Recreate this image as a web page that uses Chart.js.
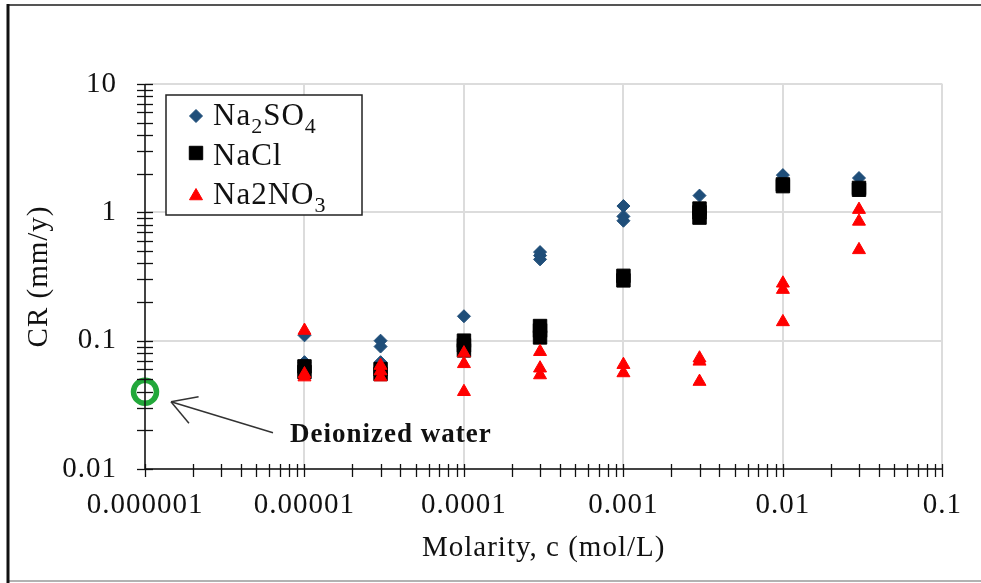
<!DOCTYPE html>
<html><head><meta charset="utf-8">
<script src="https://cdn.jsdelivr.net/npm/chart.js@4.4.1/dist/chart.umd.min.js"></script>
<style>html,body{margin:0;padding:0;background:#fff;}#wrap{position:relative;width:981px;height:583px;}</style>
</head><body><div id="wrap"><canvas id="c" width="981" height="583"></canvas></div>
<script>
// ---- data ----
const molarity = [1e-5, 3e-5, 1e-4, 3e-4, 1e-3, 3e-3, 1e-2, 3e-2];
const na2so4CR = [[0.11, 0.068], [0.10, 0.09, 0.068], [0.155], [0.49, 0.46, 0.43], [1.12, 0.93, 0.86], [1.35], [1.95], [1.85]];
const naclCR   = [[0.063, 0.057], [0.06, 0.055], [0.1, 0.092, 0.084], [0.13, 0.12, 0.106], [0.32, 0.295], [1.07, 1.0, 0.91], [1.65, 1.6], [1.55, 1.5]];
const na2no3CR = [[0.12, 0.055, 0.052], [0.064, 0.058, 0.052], [0.08, 0.066, 0.04], [0.082, 0.061, 0.054], [0.065, 0.056], [0.073, 0.069, 0.048], [0.28, 0.25, 0.14], [1.05, 0.85, 0.51]];
const diWaterX = [1e-6];
const diWaterCR = [0.04];
const xDecades = [1e-6, 1e-5, 1e-4, 1e-3, 1e-2, 1e-1];
const xTickLabels = ['0.000001', '0.00001', '0.0001', '0.001', '0.01', '0.1'];
const yDecades = [0.01, 0.1, 1, 10];
const yTickLabels = ['0.01', '0.1', '1', '10'];
const seriesNames = [['Na', '2', 'SO', '4'], ['NaCl'], ['Na2NO', '3']];
const annotationText = 'Deionized water';
const xTitle = 'Molarity, c (mol/L)';
const yTitle = 'CR (mm/y)';

const FONT = '"Liberation Serif", "Times New Roman", serif';
const SPACING = '1px';
function pts(groups) {
  const out = [];
  groups.forEach((g, i) => g.forEach(v => out.push({x: molarity[i], y: v})));
  return out;
}
function isDecade(v, list) { return list.findIndex(d => Math.abs(d - v) / d < 1e-9); }
function logTicks(min, max) {
  const out = [];
  for (let e = Math.round(Math.log10(min)); e < Math.round(Math.log10(max)); e++) {
    for (let m = 1; m <= 9; m++) out.push(+(m * Math.pow(10, e)).toPrecision(6));
  }
  out.push(max);
  return out;
}

const datasets = [
  {label: 'Na2NO3', data: pts(na2no3CR), pointStyle: 'triangle', pointRadius: 7.5, backgroundColor: '#FF0000', borderColor: '#FF0000', borderWidth: 1, order: 0, clip: false},
  {label: 'NaCl', data: pts(naclCR), pointStyle: 'rect', pointRadius: 9.5, backgroundColor: '#000000', borderColor: '#000000', borderWidth: 1, order: 1, clip: false},
  {label: 'Na2SO4', data: pts(na2so4CR), pointStyle: 'rectRot', pointRadius: 6.5, backgroundColor: '#1F4E79', borderColor: '#1F4E79', borderWidth: 1, order: 2, clip: false},
  {label: 'DI water', data: diWaterX.map((x, i) => ({x, y: diWaterCR[i]})), pointStyle: 'circle', pointRadius: 11.5, backgroundColor: 'rgba(0,0,0,0)', borderColor: '#22A83A', borderWidth: 5.5, order: 3, clip: false}
];

const overlay = {
  id: 'overlay',
  beforeUpdate(chart) { chart.ctx.letterSpacing = SPACING; },
  beforeLayout(chart) { chart.ctx.letterSpacing = SPACING; },
  beforeDraw(chart) {
    const c = chart.ctx;
    c.letterSpacing = SPACING;
    c.save();
    c.fillStyle = '#fff';
    c.fillRect(0, 0, chart.width, chart.height);
    c.strokeStyle = '#555'; c.lineWidth = 2;
    c.beginPath(); c.moveTo(7, 5); c.lineTo(chart.width, 5); c.stroke();
    c.strokeStyle = '#999'; c.lineWidth = 1.5;
    c.beginPath(); c.moveTo(7, 581); c.lineTo(chart.width, 581); c.stroke();
    c.strokeStyle = '#111'; c.lineWidth = 3;
    c.beginPath(); c.moveTo(8, 4); c.lineTo(8, chart.height); c.stroke();
    c.restore();
  },
  afterDatasetsDraw(chart) {
    const c = chart.ctx, xs = chart.scales.x, ys = chart.scales.y, a = chart.chartArea;
    c.save();
    // axis lines
    c.strokeStyle = '#111'; c.lineWidth = 1.5;
    c.beginPath(); c.moveTo(a.left, a.top); c.lineTo(a.left, a.bottom); c.lineTo(a.right, a.bottom); c.stroke();
    // ticks crossing the axes
    c.lineWidth = 1.3;
    ys.ticks.forEach(t => { const y = Math.round(ys.getPixelForValue(t.value)) + 0.5; c.beginPath(); c.moveTo(a.left - 8, y); c.lineTo(a.left + 8, y); c.stroke(); });
    xs.ticks.forEach(t => { const x = Math.round(xs.getPixelForValue(t.value)) + 0.5; c.beginPath(); c.moveTo(x, a.bottom - 5); c.lineTo(x, a.bottom + 8); c.stroke(); });
    // legend
    const bx = a.left + 21, by = a.top + 11, bw = 196, bh = 120;
    c.fillStyle = '#fff'; c.fillRect(bx, by, bw, bh);
    c.strokeStyle = '#222'; c.lineWidth = 1.5; c.strokeRect(bx, by, bw, bh);
    const legendDs = [datasets[2], datasets[1], datasets[0]];
    const rowsY = [a.top + 32, a.top + 69, a.top + 112];
    const baseY = [a.top + 41, a.top + 81, a.top + 120];
    legendDs.forEach((ds, i) => {
      c.fillStyle = ds.backgroundColor; c.strokeStyle = ds.borderColor; c.lineWidth = 1;
      const r = ds.pointStyle === 'rect' ? 9.5 : (ds.pointStyle === 'triangle' ? 7.5 : 6.5);
      Chart.helpers.drawPoint(c, {pointStyle: ds.pointStyle, radius: r, borderWidth: 1, rotation: 0}, a.left + 51, rowsY[i]);
      c.fillStyle = '#111'; c.textBaseline = 'alphabetic'; c.textAlign = 'left';
      let x = a.left + 68;
      seriesNames[i].forEach((part, k) => {
        const sub = k % 2 === 1;
        c.font = (sub ? '22px ' : '31px ') + FONT;
        c.fillText(part, x, baseY[i] + (sub ? 8 : 0));
        x += c.measureText(part).width;
      });
    });
    // annotation
    const px = xs.getPixelForValue(diWaterX[0]), py = ys.getPixelForValue(diWaterCR[0]);
    const tipX = px + 26, tipY = py + 10, tailX = px + 128, tailY = py + 41;
    c.strokeStyle = '#333'; c.lineWidth = 1.5;
    c.beginPath(); c.moveTo(tailX, tailY); c.lineTo(tipX, tipY); c.stroke();
    const ang = Math.atan2(tailY - tipY, tailX - tipX);
    [-0.47, 0.58].forEach(d => {
      c.beginPath(); c.moveTo(tipX, tipY);
      c.lineTo(tipX + 28 * Math.cos(ang + d), tipY + 28 * Math.sin(ang + d)); c.stroke();
    });
    c.fillStyle = '#111'; c.font = 'bold 27px ' + FONT; c.textAlign = 'left'; c.textBaseline = 'alphabetic';
    c.fillText(annotationText, px + 145, py + 50);
    c.restore();
  }
};

new Chart(document.getElementById('c'), {
  type: 'scatter',
  data: {datasets},
  plugins: [overlay],
  options: {
    responsive: false, animation: false, devicePixelRatio: 1,
    layout: {padding: {left: 0, top: 84, right: 37, bottom: 0}},
    plugins: {legend: {display: false}, tooltip: {enabled: false}},
    scales: {
      x: {
        type: 'logarithmic', min: 1e-6, max: 0.1,
        afterBuildTicks: s => { s.ticks = logTicks(1e-6, 0.1).map(v => ({value: v, major: isDecade(v, xDecades) >= 0})); },
        afterFit: s => { s.height = 114; },
        border: {display: false},
        grid: {drawTicks: false, lineWidth: 2, color: ctx => (ctx.tick && isDecade(ctx.tick.value, xDecades) >= 0) ? '#DCDCDC' : 'rgba(0,0,0,0)'},
        ticks: {autoSkip: false, maxRotation: 0, padding: 19, color: '#111', font: {family: FONT, size: 29},
          callback: v => { const i = isDecade(v, xDecades); return i >= 0 ? xTickLabels[i] : ''; }},
        title: {display: true, text: xTitle, color: '#111', font: {family: FONT, size: 29}, padding: {top: 0, bottom: 17}}
      },
      y: {
        type: 'logarithmic', min: 0.01, max: 10,
        afterBuildTicks: s => { s.ticks = logTicks(0.01, 10).map(v => ({value: v, major: isDecade(v, yDecades) >= 0})); },
        afterFit: s => { s.width = 145; },
        border: {display: false},
        grid: {drawTicks: false, lineWidth: 2, color: ctx => (ctx.tick && isDecade(ctx.tick.value, yDecades) >= 0) ? '#DCDCDC' : 'rgba(0,0,0,0)'},
        ticks: {autoSkip: false, padding: 28, color: '#111', font: {family: FONT, size: 29},
          callback: v => { const i = isDecade(v, yDecades); return i >= 0 ? yTickLabels[i] : ''; }},
        title: {display: true, text: yTitle, color: '#111', font: {family: FONT, size: 29}, padding: {top: 22, bottom: 0}}
      }
    }
  }
});
</script></body></html>
